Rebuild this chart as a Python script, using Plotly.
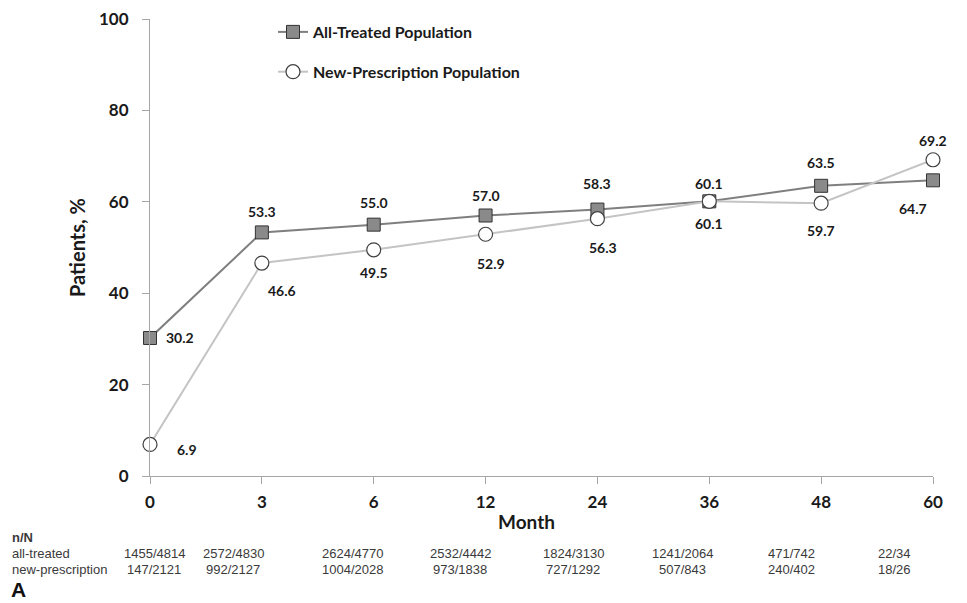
import plotly.graph_objects as go

# ---- data -------------------------------------------------------------
months = ["0", "3", "6", "12", "24", "36", "48", "60"]
all_treated = [30.2, 53.3, 55.0, 57.0, 58.3, 60.1, 63.5, 64.7]
new_prescription = [6.9, 46.6, 49.5, 52.9, 56.3, 60.1, 59.7, 69.2]
all_treated_nN = ["1455/4814", "2572/4830", "2624/4770", "2532/4442",
                  "1824/3130", "1241/2064", "471/742", "22/34"]
new_prescription_nN = ["147/2121", "992/2127", "1004/2028", "973/1838",
                       "727/1292", "507/843", "240/402", "18/26"]
y_ticks = [0, 20, 40, 60, 80, 100]

# ---- layout helpers ---------------------------------------------------
W, H = 967, 603
ML, MR, MT, MB = 150, 34, 19, 127
PW, PH = W - ML - MR, H - MT - MB


def px_x(px):
    return (px - ML) / PW


def px_y(py):
    return (H - MB - py) / PH


LABEL_FONT = dict(family="Lato", size=14, color="#1a1a1a")
TABLE_FONT = dict(family="Arial", size=13, color="#3a3a3a")

# value-label offsets (pixels, +y = up) for each series
at_offsets = [(30, 0), (0, 21), (0, 22), (0, 20), (0, 26), (0, 18), (0, 23), (-20, -28)]
np_offsets = [(37, -5), (20, -27), (0, -23), (5, -29), (6, -29), (0, -22), (0, -27), (0, 19)]

# horizontal centers (pixels) of the n/N table columns
table_cols = [154, 233, 352, 460, 573, 682, 791, 894]

fig = go.Figure()

fig.add_trace(go.Scatter(
    x=months, y=all_treated, name="All-Treated Population",
    mode="lines+markers", legendgroup="a", cliponaxis=False,
    line=dict(color="#7f7f7f", width=2),
    marker=dict(symbol="square", size=13, color="#8a8a8a",
                line=dict(color="#333333", width=1)),
))
fig.add_trace(go.Scatter(
    x=months, y=new_prescription, name="New-Prescription Population",
    mode="lines+markers", legendgroup="b", cliponaxis=False,
    line=dict(color="#c4c4c4", width=2),
    marker=dict(symbol="circle", size=14, color="white",
                line=dict(color="#404040", width=1.2)),
))

annotations = []
for series, offsets in ((all_treated, at_offsets), (new_prescription, np_offsets)):
    for i, (v, (dx, dy)) in enumerate(zip(series, offsets)):
        annotations.append(dict(
            x=i, y=v, xref="x", yref="y", text=f"<b>{v:.1f}</b>",
            xanchor="center", yanchor="middle",
            showarrow=False, xshift=dx, yshift=dy, font=LABEL_FONT,
        ))


def paper_text(px, py, text, font, xanchor="center"):
    return dict(x=px_x(px), y=px_y(py), xref="paper", yref="paper", text=text,
                xanchor=xanchor, yanchor="middle", showarrow=False, font=font)


# axis title for months
annotations.append(paper_text(526, 521, "<b>Month</b>",
                              dict(family="Lato", size=19, color="#1a1a1a")))

# n/N table beneath the axis
annotations.append(paper_text(10, 537, "<b>n/N</b>", TABLE_FONT, "left"))
for row_name, row_vals, py in (("all-treated", all_treated_nN, 553),
                               ("new-prescription", new_prescription_nN, 569)):
    annotations.append(paper_text(10, py, row_name, TABLE_FONT, "left"))
    for cx, txt in zip(table_cols, row_vals):
        annotations.append(paper_text(cx, py, txt, TABLE_FONT))

# panel letter
annotations.append(paper_text(9, 589, "<b>A</b>",
                              dict(family="Arial", size=21, color="#111111"), "left"))

fig.update_layout(
    width=W, height=H,
    margin=dict(l=ML, r=MR, t=MT, b=MB, pad=0, autoexpand=False),
    paper_bgcolor="white", plot_bgcolor="white",
    showlegend=True,
    legend=dict(
        x=px_x(273), y=1.0 + 4 / PH, xanchor="left", yanchor="top",
        bgcolor="rgba(0,0,0,0)", tracegroupgap=16,
        font=dict(family="Lato", size=16, color="#1a1a1a", weight="bold"),
    ),
    annotations=annotations,
)

fig.update_xaxes(
    type="category", range=[0, 7], automargin=False,
    showgrid=False, zeroline=False,
    showline=True, linecolor="#a6a6a6", linewidth=1,
    ticks="outside", ticklen=7, tickcolor="#a6a6a6",
    tickfont=dict(family="Lato", size=17, color="#1a1a1a", weight="bold"),
    ticklabelstandoff=4,
)
fig.update_yaxes(
    range=[0, 100], tickvals=y_ticks, automargin=False,
    showgrid=False, zeroline=False,
    showline=True, linecolor="#a6a6a6", linewidth=1,
    ticks="outside", ticklen=7, tickcolor="#a6a6a6",
    tickfont=dict(family="Lato", size=17, color="#1a1a1a", weight="bold"),
    ticklabelstandoff=10,
    title=dict(text="<b>Patients, %</b>", standoff=8,
               font=dict(family="Lato", size=20, color="#1a1a1a")),
)

fig.write_html("out.html")
